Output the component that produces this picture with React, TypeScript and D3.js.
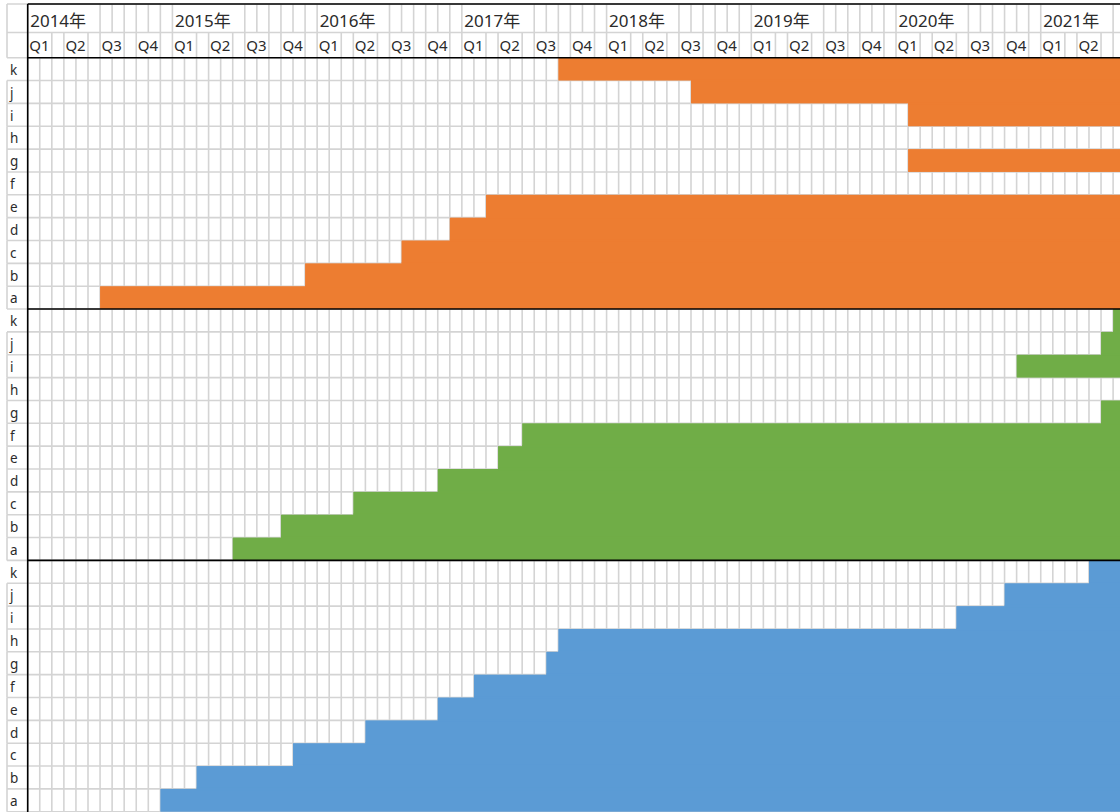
import React from "react";
import * as d3 from "d3";

// Timeline: monthly columns starting January 2014
const firstYear = 2014;
const years = [2014, 2015, 2016, 2017, 2018, 2019, 2020, 2021];
const quarterLabels = ["Q1", "Q2", "Q3", "Q4"];
const monthCount = 91; // Jan 2014 .. Jul 2021

// Row labels per panel, top to bottom
const rowLabels = ["k", "j", "i", "h", "g", "f", "e", "d", "c", "b", "a"];

// Start month of each row (filled through the end of the timeline); null = no bar
const orangeStart = ["2017-09", "2018-08", "2020-02", null, "2020-02", null, "2017-03", "2016-12", "2016-08", "2015-12", "2014-07"];
const greenStart = ["2021-07", "2021-06", "2020-11", null, "2021-06", "2017-06", "2017-04", "2016-11", "2016-04", "2015-10", "2015-06"];
const blueStart = ["2021-05", "2020-10", "2020-06", "2017-09", "2017-08", "2017-02", "2016-11", "2016-05", "2015-11", "2015-03", "2014-12"];
const endMonth = "2021-07";

const panelColors = ["#ED7D31", "#70AD47", "#5B9BD5"];
const panels = [orangeStart, greenStart, blueStart];

const W = 1120;
const H = 812;
const gridLeft = 27.7;
const monthW = 12.06;
const headerTop = 4;
const yearRowBottom = 32.5;
const headerBottom = 57.7;
const rowH = 22.85;
const labelColX = 7;
const gridColor = "#d4d4d4";
const textColor = "#2b2b2b";
const font = "'Noto Sans', 'Noto Sans CJK JP', sans-serif";

const monthIndex = (s: string) => {
  const [yy, m] = s.split("-").map(Number);
  return (yy - firstYear) * 12 + (m - 1);
};

const x = d3.scaleLinear().domain([0, monthCount]).range([gridLeft, gridLeft + monthCount * monthW]);
const totalRows = rowLabels.length * panels.length;
const y = d3.scaleLinear().domain([0, totalRows]).range([headerBottom, headerBottom + totalRows * rowH]);

export default function App() {
  const months = d3.range(0, monthCount + 1);
  const rows = d3.range(0, totalRows + 1);
  const xEnd = x(monthIndex(endMonth) + 1);

  return (
    <svg
      width={W}
      height={H}
      style={{ position: "absolute", left: 0, top: 0, display: "block", background: "#fff" }}
    >
      <rect x={0} y={0} width={W} height={H} fill="#fff" />

      {/* month gridlines: header rows skip boundaries covered by overflowing labels */}
      <g stroke={gridColor} strokeWidth={1.6}>
        {months.map((m) => {
          const xm = x(m);
          const inYear = m % 12;
          const showYear = !(inYear >= 1 && inYear <= 5);
          const showQuarter = m % 3 !== 1;
          return (
            <g key={m}>
              {showYear && <line x1={xm} x2={xm} y1={headerTop} y2={yearRowBottom} />}
              {showQuarter && <line x1={xm} x2={xm} y1={yearRowBottom} y2={headerBottom} />}
              <line x1={xm} x2={xm} y1={headerBottom} y2={H} />
            </g>
          );
        })}
        {/* row gridlines */}
        <line x1={labelColX} x2={W} y1={headerTop} y2={headerTop} />
        <line x1={labelColX} x2={W} y1={yearRowBottom} y2={yearRowBottom} />
        {rows.map((r) => (
          <line key={r} x1={labelColX} x2={W} y1={y(r)} y2={y(r)} />
        ))}
        {/* label column left edge */}
        <line x1={labelColX} x2={labelColX} y1={headerTop} y2={headerBottom} />
        {rows.slice(0, totalRows).map((r) =>
          r % rowLabels.length === 0 ? null : (
            <line key={"l" + r} x1={labelColX} x2={labelColX} y1={y(r)} y2={y(r + 1)} />
          )
        )}
      </g>

      {/* filled bars, with seam covers where adjacent rows are both filled */}
      {panels.map((starts, p) => (
        <g key={p} fill={panelColors[p]}>
          {starts.map((s, i) => {
            if (!s) return null;
            const r = p * rowLabels.length + i;
            const x0 = x(monthIndex(s));
            return (
              <rect key={i} x={x0} y={y(r)} width={xEnd - x0} height={y(r + 1) - y(r)} />
            );
          })}
          {starts.map((s, i) => {
            const below = starts[i + 1];
            if (!s || !below) return null;
            const r = p * rowLabels.length + i;
            const x0 = x(Math.max(monthIndex(s), monthIndex(below)));
            return (
              <rect key={"j" + i} x={x0} y={y(r + 1) - 1.2} width={xEnd - x0} height={2.4} />
            );
          })}
        </g>
      ))}

      {/* frame lines */}
      <g stroke="#000" strokeWidth={1.6}>
        <line x1={gridLeft} x2={W} y1={headerTop} y2={headerTop} />
        <line x1={gridLeft} x2={W} y1={headerBottom} y2={headerBottom} />
        {panels.slice(1).map((_, p) => {
          const yy = y((p + 1) * rowLabels.length);
          return <line key={p} x1={gridLeft} x2={W} y1={yy} y2={yy} />;
        })}
        <line x1={gridLeft} x2={gridLeft} y1={headerTop} y2={H} />
      </g>

      {/* header labels */}
      <g fontFamily={font} fill={textColor}>
        {years.map((yr, i) => (
          <text key={yr} x={x(i * 12) + 2.5} y={26.5} fontSize={17}>
            {yr}年
          </text>
        ))}
        {years.map((yr, i) =>
          quarterLabels.map((q, qi) => {
            const m = i * 12 + qi * 3;
            if (m + 3 > monthCount) return null;
            return (
              <text key={yr + q} x={x(m) + 1.5} y={50.8} fontSize={15}>
                {q}
              </text>
            );
          })
        )}
        {panels.map((_, p) =>
          rowLabels.map((lab, i) => {
            const r = p * rowLabels.length + i;
            return (
              <text key={p + lab} x={10} y={y(r) + 17.2} fontSize={13.5}>
                {lab}
              </text>
            );
          })
        )}
      </g>
    </svg>
  );
}
